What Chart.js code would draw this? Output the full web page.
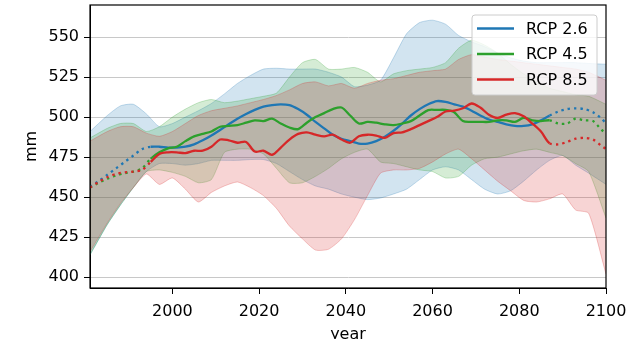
<!DOCTYPE html>
<html>
<head>
<meta charset="utf-8">
<script src="https://cdn.jsdelivr.net/npm/chart.js@4.4.1/dist/chart.umd.min.js"></script>
<style>
  html, body { margin: 0; padding: 0; background: #fff; }
  #wrap { width: 633px; height: 339px; }
</style>
</head>
<body>
<div id="wrap"><canvas id="chart" width="633" height="339"></canvas></div>
<script>
// ----------------- DATA -----------------
const SERIES = ['RCP 2.6', 'RCP 4.5', 'RCP 8.5'];
const X_TICKS = [2000, 2020, 2040, 2060, 2080, 2100];
const Y_TICKS = [400, 425, 450, 475, 500, 525, 550];

// model spread (min / max) per scenario
const BAND_YEARS = [1981, 1985, 1988, 1991, 1994, 1997, 2000, 2003, 2006, 2009,
  2012, 2015, 2018, 2021, 2024, 2027, 2030, 2033, 2036, 2039,
  2042, 2045, 2048, 2051, 2054, 2057, 2060, 2063, 2066, 2069,
  2072, 2075, 2078, 2081, 2084, 2087, 2090, 2093, 2096, 2100];

const RCP26_HIGH = [491, 501, 507, 508, 502, 494, 496, 500, 504, 508.5,
  514.5, 521, 526, 530, 530.5, 530, 530, 530, 528, 525,
  519, 520, 523, 537, 552, 559, 560.5, 558, 551, 547,
  544, 540, 537, 535, 534, 534, 534, 534, 533.5, 533];
const RCP26_LOW = [414, 433, 445, 456, 466, 471, 471, 470, 471, 473,
  473, 473, 473.5, 473.5, 471, 466, 461, 457, 455, 452,
  450, 448.5, 449.5, 452, 455, 461, 467, 469, 467, 461,
  455, 452, 454, 460, 467, 473, 476, 470, 465, 458];

const RCP45_HIGH = [487, 493, 496, 496, 491, 494, 500, 505, 509, 511,
  509, 510, 511.5, 513, 515, 525, 534, 536, 530, 530,
  531, 528, 522, 527, 529, 530, 531, 534, 543, 548,
  545, 540, 533, 527, 522, 518, 516, 514, 513, 508];
const RCP45_LOW = [414, 433, 445, 456, 466, 467, 465.5, 463, 459, 461,
  478, 480, 480, 477, 468, 459, 459, 463, 468, 474,
  478, 480, 472, 471, 469, 467, 466, 462, 463, 470,
  474, 475, 477, 479, 480, 478, 476, 471, 466, 437];

const RCP85_HIGH = [485, 491, 494, 494, 490, 488, 491, 496, 501, 504,
  505.5, 507, 509, 511, 513.5, 517, 521, 522, 519.5, 521,
  518, 521, 523, 524, 526, 528, 529, 530, 536, 539,
  537.5, 536, 535, 534, 533, 532, 531, 530, 528, 523];
const RCP85_LOW = [416, 434, 446, 456, 464.5, 458, 462, 455, 447, 453,
  457, 459.5, 456, 451, 443, 432, 424, 417, 417.5, 424,
  436, 451, 465, 467, 467, 468, 472, 477, 480, 474,
  467, 460, 454, 448, 447, 449, 452, 442, 440, 402];

// ensemble mean
const LINE_YEARS = [1981, 1983, 1985, 1987, 1989, 1991, 1993, 1995, 1997, 1999,
  2001, 2003, 2005, 2007, 2009, 2011, 2013, 2015, 2017, 2019,
  2021, 2023, 2025, 2027, 2029, 2031, 2033, 2035, 2037, 2039,
  2041, 2043, 2045, 2047, 2049, 2051, 2053, 2055, 2057, 2059,
  2061, 2063, 2065, 2067, 2069, 2071, 2073, 2075, 2077, 2079,
  2081, 2083, 2085, 2087, 2089, 2091, 2093, 2095, 2097, 2099, 2100];

const RCP26_MEAN = [456.5, 460, 464, 468, 472, 476, 480, 481.5, 481.5, 481,
  481, 481.5, 483, 485.5, 488.5, 492, 495.5, 499, 502, 504.5,
  506.5, 507.5, 508, 507.5, 505, 501.5, 497, 493, 489, 486.5,
  485, 483.5, 483.5, 485, 487.7, 491.5, 496, 501, 505, 508,
  510, 509.5, 508, 506.5, 504, 501, 498.5, 497, 495.5, 494.5,
  494.5, 495.5, 498, 501, 503.5, 505, 505.5, 505, 503, 499, 496];
const RCP45_MEAN = [456, 459, 461.5, 463.5, 465, 466, 468, 474, 478, 480.5,
  481.5, 485, 488, 489.5, 491, 494, 494.5, 495, 496.5, 498,
  497.5, 499, 496, 493.5, 492.5, 496.5, 500, 502.5, 505, 506,
  501, 496, 497, 496.5, 495.5, 495, 496, 497.5, 501, 504.4,
  504.5, 504.5, 503, 497.5, 497, 497, 497, 498, 498, 497,
  499.5, 498, 497.5, 498, 496, 496, 499, 498, 497.5, 492, 490];
const RCP85_MEAN = [456, 459.5, 462.5, 464.5, 465.5, 466, 467, 472, 477, 478,
  478, 477.5, 479, 479, 481.5, 486, 485.5, 484, 484.5, 478.5,
  479, 476.5, 481, 486, 489.5, 490.5, 489, 488, 489, 486,
  484, 488, 489, 488.5, 487, 490, 490.5, 492.5, 495, 497.5,
  500, 503.5, 504, 505.5, 508.5, 506, 501.5, 499.5, 501.5, 502.5,
  500.5, 496, 491, 483.6, 483, 484.5, 486.5, 487, 486, 482, 480];

// observed period drawn solid, rest dotted
const SOLID_FROM = 1995;
const SOLID_TO = 2087;

// ----------------- STYLE -----------------
const FONT = 'DejaVu Sans';
const COLORS = ['#1f77b4', '#2ca02c', '#d62728'];
const BAND_FILL = ['rgba(31,119,180,0.2)', 'rgba(44,160,44,0.2)', 'rgba(214,39,40,0.2)'];
const BAND_EDGE = ['rgba(31,119,180,0.25)', 'rgba(44,160,44,0.25)', 'rgba(214,39,40,0.25)'];

const highs = [RCP26_HIGH, RCP45_HIGH, RCP85_HIGH];
const lows = [RCP26_LOW, RCP45_LOW, RCP85_LOW];
const means = [RCP26_MEAN, RCP45_MEAN, RCP85_MEAN];

function pts(xs, ys) {
  return xs.map((x, i) => ({ x: x, y: ys[i] }));
}

const datasets = [];

// mean lines (indices 0..2), drawn on top
SERIES.forEach((name, i) => {
  datasets.push({
    label: name,
    data: pts(LINE_YEARS, means[i]),
    borderColor: COLORS[i],
    borderWidth: 2.3,
    borderCapStyle: 'butt',
    pointRadius: 0,
    fill: false,
    tension: 0.3,
    order: 2 - i,
    segment: {
      borderDash: ctx => (ctx.p0.parsed.x < SOLID_FROM || ctx.p0.parsed.x >= SOLID_TO) ? [2.4, 4] : undefined
    }
  });
});

// spread bands
SERIES.forEach((name, i) => {
  datasets.push({
    label: name + ' max',
    data: pts(BAND_YEARS, highs[i]),
    borderColor: BAND_EDGE[i],
    borderWidth: 1,
    backgroundColor: BAND_FILL[i],
    fill: '+1',
    pointRadius: 0,
    tension: 0.2,
    order: 12 - i
  });
  datasets.push({
    label: name + ' min',
    data: pts(BAND_YEARS, lows[i]),
    borderColor: BAND_EDGE[i],
    borderWidth: 1,
    fill: false,
    pointRadius: 0,
    tension: 0.2,
    order: 12 - i
  });
});

// box round the axes, like matplotlib spines
const framePlugin = {
  id: 'frame',
  afterDatasetsDraw(chart) {
    const a = chart.chartArea;
    const ctx = chart.ctx;
    ctx.save();
    ctx.strokeStyle = '#000';
    ctx.lineWidth = 1.2;
    ctx.strokeRect(a.left, a.top, a.right - a.left, a.bottom - a.top);
    ctx.restore();
  }
};

// legend box in the upper right corner
const legendBoxPlugin = {
  id: 'legendBox',
  afterDraw(chart) {
    const a = chart.chartArea;
    const ctx = chart.ctx;
    const w = 125, h = 80;
    const x = a.right - 9 - w, y = a.top + 10;
    ctx.save();
    ctx.beginPath();
    ctx.roundRect(x, y, w, h, 3);
    ctx.fillStyle = 'rgba(255,255,255,0.8)';
    ctx.fill();
    ctx.strokeStyle = '#cccccc';
    ctx.lineWidth = 1;
    ctx.stroke();
    ctx.font = '16px "' + FONT + '"';
    ctx.textBaseline = 'middle';
    ctx.fillStyle = '#000';
    SERIES.forEach((name, i) => {
      const ry = y + 13.5 + i * 25.5;
      ctx.beginPath();
      ctx.moveTo(x + 5, ry);
      ctx.lineTo(x + 42, ry);
      ctx.strokeStyle = COLORS[i];
      ctx.lineWidth = 2.3;
      ctx.stroke();
      ctx.fillText(name, x + 54, ry + 1);
    });
    ctx.restore();
  }
};

new Chart(document.getElementById('chart'), {
  type: 'line',
  data: { datasets: datasets },
  plugins: [framePlugin, legendBoxPlugin],
  options: {
    responsive: false,
    animation: false,
    events: [],
    layout: { padding: { left: 0, right: 27, top: 5, bottom: 0 } },
    plugins: {
      legend: { display: false },
      tooltip: { enabled: false }
    },
    scales: {
      x: {
        type: 'linear',
        min: 1981,
        max: 2100,
        afterBuildTicks: s => { s.ticks = X_TICKS.map(v => ({ value: v })); },
        afterFit: s => { s.height = 51; s.paddingLeft = 0; s.paddingRight = 0; },
        grid: { drawOnChartArea: false, drawTicks: true, tickLength: 6, tickColor: '#000', tickWidth: 1 },
        border: { display: true, color: '#000', width: 1 },
        ticks: {
          color: '#000', font: { family: FONT, size: 16 }, padding: 8,
          maxRotation: 0, autoSkip: false, callback: v => String(v)
        },
        title: {
          display: true, text: 'year', color: '#000',
          font: { family: FONT, size: 16 }, padding: { top: 0, bottom: -5 }
        }
      },
      y: {
        type: 'linear',
        min: 393.3,
        max: 570,
        afterBuildTicks: s => { s.ticks = Y_TICKS.map(v => ({ value: v })); },
        afterFit: s => { s.width = 90; s.paddingTop = 0; s.paddingBottom = 0; },
        grid: { color: '#c8c8c8', lineWidth: 1, drawTicks: true, tickLength: 6, tickColor: '#000', tickWidth: 1 },
        border: { display: true, color: '#000', width: 1 },
        ticks: {
          color: '#000', font: { family: FONT, size: 16 }, padding: 5,
          autoSkip: false, callback: v => String(v)
        },
        title: {
          display: true, text: 'mm', color: '#000',
          font: { family: FONT, size: 16 }, padding: { top: 22, bottom: 0 }
        }
      }
    }
  }
});
</script>
</body>
</html>
